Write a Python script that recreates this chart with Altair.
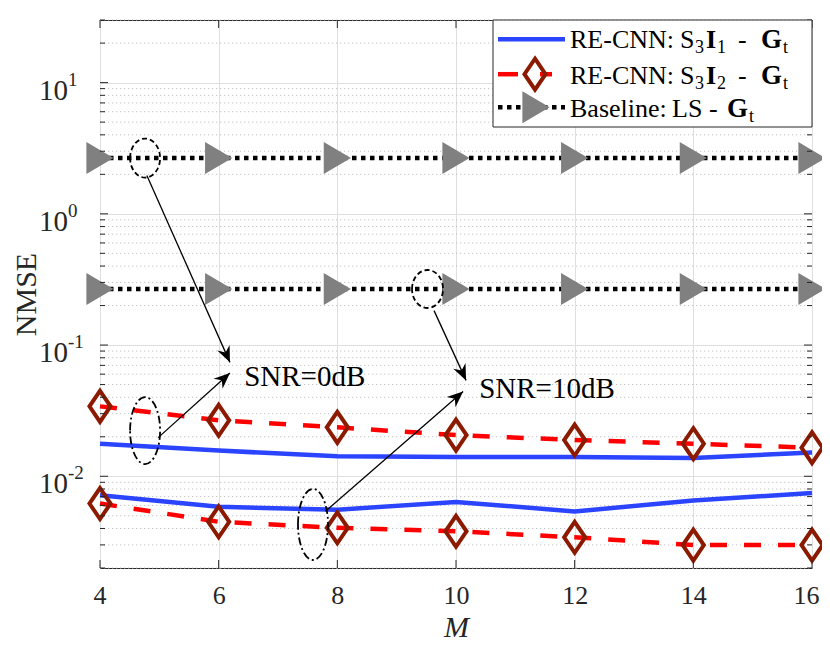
import math
import altair as alt
import pandas as pd

# ---------------- data ----------------
M = [4, 6, 8, 10, 12, 14, 16]
cnn_s3i1_snr0 = [0.0177, 0.0157, 0.0142, 0.0140, 0.0140, 0.0138, 0.0152]
cnn_s3i1_snr10 = [0.00717, 0.00585, 0.00557, 0.00638, 0.00540, 0.00653, 0.00747]
cnn_s3i2_snr0 = [0.0341, 0.0267, 0.0236, 0.0206, 0.0189, 0.0177, 0.0165]
cnn_s3i2_snr10 = [0.00620, 0.00450, 0.00405, 0.00381, 0.00343, 0.00299, 0.00299]
ls_snr0 = [2.66, 2.66, 2.66, 2.66, 2.66, 2.66, 2.66]
ls_snr10 = [0.2675, 0.2675, 0.2675, 0.2675, 0.2675, 0.2675, 0.2675]

y_major = [0.01, 0.1, 1, 10]
y_base_labels = ["10", "10", "10", "10"]
y_exp_labels = ["-2", "-1", "0", "1"]
y_minor = [k * 10 ** e for e in range(-3, 2) for k in range(2, 10) if 0.002 <= k * 10 ** e <= 30.0001]

# annotations (data coordinates)
ell_m = [4.76, 4.76, 9.52, 7.59]
ell_v = [2.66, 0.0223, 0.2675, 0.00429]
ell_w = [30, 30, 31, 30]
ell_h = [39, 67, 38, 71]
ell_dash = [[5, 3], [8, 3, 2, 3], [5, 3], [8, 3, 2, 3]]

arr_m1 = [4.79, 4.98, 9.63, 7.80]
arr_v1 = [1.96, 0.0197, 0.183, 0.00541]
arr_m2 = [6.19, 6.19, 10.17, 10.12]
arr_v2 = [0.0738, 0.0613, 0.0538, 0.0442]

txt_m = [6.43, 10.39]
txt_v = [0.0485, 0.0395]
txt_s = ["SNR=0dB", "SNR=10dB"]

# ---------------- geometry / style ----------------
W, H = 712, 548
XMIN, XMAX = 4, 16
YMIN, YMAX = 0.002, 30
FONT = "Liberation Serif"
AX = "#262626"
BLUE = "#2a44ff"
RED = "#ff0000"
DRED = "#8b1a00"
GRAY = "#808080"


def px(m):
    return (m - XMIN) / (XMAX - XMIN) * W


def py(v):
    return H * (math.log10(YMAX) - math.log10(v)) / math.log10(YMAX / YMIN)


xs = alt.Scale(domain=[XMIN, XMAX], nice=False, zero=False)
ys = alt.Scale(type="log", domain=[YMIN, YMAX], nice=False)

x_axis = alt.Axis(values=M, title="M", titleFont=FONT, titleFontStyle="italic",
                  titleFontSize=30, titleFontWeight="normal", titleY=68,
                  titleBaseline="alphabetic", titleColor=AX,
                  labelFont=FONT, labelFontSize=26, labelPadding=35,
                  labelBaseline="alphabetic", labelColor=AX,
                  labelFlush=True, labelFlushOffset=7, labelOverlap=False,
                  ticks=False, tickSize=0,
                  domain=False, grid=True, gridColor="#dfdfdf", gridWidth=1)
y_axis = alt.Axis(values=y_major, labels=False, title="NMSE", titleFont=FONT,
                  titleFontSize=30, titleFontWeight="normal", titleColor=AX,
                  titleX=-65, titleY=H / 2, titleAngle=270,
                  titleAlign="center", titleBaseline="alphabetic",
                  ticks=False, tickSize=0, domain=False, grid=True,
                  gridColor="#dfdfdf", gridWidth=1)

X = alt.X("M:Q", scale=xs, axis=x_axis)
Y = alt.Y("NMSE:Q", scale=ys, axis=y_axis)

DIAMOND = "M0,-1L0.68,0L0,1L-0.68,0Z"
TRI = "M-0.85,-1L0.85,0L-0.85,1Z"
ARROW = "M0,0L0.42,1L0,0.68L-0.42,1Z"

rows = []
for snr, a, b, c in [("0", cnn_s3i1_snr0, cnn_s3i2_snr0, ls_snr0),
                     ("10", cnn_s3i1_snr10, cnn_s3i2_snr10, ls_snr10)]:
    for i, m in enumerate(M):
        rows.append({"M": m, "NMSE": a[i], "series": "S3I1", "snr": snr})
        rows.append({"M": m, "NMSE": b[i], "series": "S3I2", "snr": snr})
        rows.append({"M": m, "NMSE": c[i], "series": "LS", "snr": snr})
df = pd.DataFrame(rows)

one = pd.DataFrame({"k": [0]})
base = alt.Chart(df)

# minor grid
minor = alt.Chart(pd.DataFrame({"NMSE": y_minor})).mark_rule(
    color="#c4c4c4", strokeWidth=1, strokeDash=[1.3, 2.7]).encode(
    y=Y, x=alt.value(0), x2=alt.value(W))

blue = base.transform_filter("datum.series == 'S3I1'").mark_line(
    color=BLUE, strokeWidth=4.5).encode(x=X, y=Y, detail="snr:N")

red = base.transform_filter("datum.series == 'S3I2'").mark_line(
    color=RED, strokeWidth=4.5, strokeDash=[17, 17], strokeCap="butt").encode(
    x=X, y=Y, detail="snr:N")

diam = base.transform_filter("datum.series == 'S3I2'").mark_point(
    shape=DIAMOND, filled=False, color=DRED, strokeWidth=4, size=961, opacity=1).encode(
    x=X, y=Y)

black = base.transform_filter("datum.series == 'LS'").mark_line(
    color="black", strokeWidth=4.5, strokeDash=[4.5, 4.5], strokeCap="butt").encode(
    x=X, y=Y, detail="snr:N")

tri = base.transform_filter("datum.series == 'LS'").mark_point(
    shape=TRI, filled=True, color=GRAY, strokeWidth=0, size=1024, opacity=1).encode(
    x=X, y=Y)

# ellipses
ell_layers = []
for i in range(len(ell_m)):
    a = ell_w[i] / ell_h[i]
    path = f"M{-a:.3f},0A{a:.3f},1 0 1,1 {a:.3f},0A{a:.3f},1 0 1,1 {-a:.3f},0Z"
    e = alt.Chart(pd.DataFrame({"M": [ell_m[i]], "NMSE": [ell_v[i]]})).mark_point(
        shape=path, filled=False, color="black", strokeWidth=1.8,
        strokeDash=ell_dash[i], size=ell_h[i] ** 2, opacity=1).encode(x=X, y=Y)
    ell_layers.append(e)

# arrows
angles = []
for i in range(len(arr_m1)):
    dx = px(arr_m2[i]) - px(arr_m1[i])
    dy = py(arr_v2[i]) - py(arr_v1[i])
    angles.append(math.degrees(math.atan2(dx, -dy)) % 360)
arr_line = alt.Chart(pd.DataFrame({"M": arr_m1, "NMSE": arr_v1, "M2": arr_m2, "NMSE2": arr_v2})
                     ).mark_rule(color="black", strokeWidth=1.3).encode(
    x=X, y=Y, x2="M2:Q", y2="NMSE2:Q")
arr_head = alt.Chart(pd.DataFrame({"M": arr_m2, "NMSE": arr_v2, "ang": angles})).mark_point(
    shape=ARROW, filled=True, color="black", size=1024, opacity=1, strokeWidth=0).encode(
    x=X, y=Y, angle=alt.Angle("ang:Q", scale=None))

txt = alt.Chart(pd.DataFrame({"M": txt_m, "NMSE": txt_v, "s": txt_s})).mark_text(
    font=FONT, fontSize=29, align="left", baseline="alphabetic", color="black").encode(
    x=X, y=Y, text="s:N")

# y tick labels "10" with exponents
ylab_df = pd.DataFrame({"NMSE": y_major, "b": y_base_labels, "e": y_exp_labels})
ylab_base = alt.Chart(ylab_df).mark_text(
    font=FONT, fontSize=29, align="right", baseline="alphabetic", dy=17, color=AX).encode(
    y=Y, x=alt.value(-32), text="b:N")
ylab_exp = alt.Chart(ylab_df).mark_text(
    font=FONT, fontSize=19, align="left", baseline="alphabetic", dy=3, color=AX).encode(
    y=Y, x=alt.value(-32), text="e:N")


# inward ticks
def yticks(vals, length):
    d = pd.DataFrame({"NMSE": vals})
    l = alt.Chart(d).mark_rule(color=AX, strokeWidth=1).encode(
        y=Y, x=alt.value(0), x2=alt.value(length))
    r = alt.Chart(d).mark_rule(color=AX, strokeWidth=1).encode(
        y=Y, x=alt.value(W), x2=alt.value(W - length))
    return [l, r]


xt = pd.DataFrame({"M": M})
xtick_b = alt.Chart(xt).mark_rule(color=AX, strokeWidth=1).encode(
    x=X, y=alt.value(H), y2=alt.value(H - 8))
xtick_t = alt.Chart(xt).mark_rule(color=AX, strokeWidth=1).encode(
    x=X, y=alt.value(0), y2=alt.value(8))

tick_layers = yticks(y_major, 8) + yticks(y_minor, 5) + [xtick_b, xtick_t]

# legend (layout in pixels)
LX0, LX1, LY0, LY1 = 393, W, 0, 107
leg = [alt.Chart(one).mark_rect(fill="white", stroke=AX, strokeWidth=1).encode(
    x=alt.value(LX0), x2=alt.value(LX1), y=alt.value(LY0), y2=alt.value(LY1))]


def lrule(x1, x2, y, color, dash=None):
    kw = dict(color=color, strokeWidth=4.5, strokeCap="butt")
    if dash:
        kw["strokeDash"] = dash
    return alt.Chart(one).mark_rule(**kw).encode(
        x=alt.value(x1), x2=alt.value(x2), y=alt.value(y))


def ltext(x, y, s, size=26, weight="normal"):
    return alt.Chart(one).mark_text(font=FONT, fontSize=size, fontWeight=weight,
                                    align="left", baseline="alphabetic",
                                    color="black", text=s).encode(
        x=alt.value(x), y=alt.value(y))


leg.append(lrule(398, 465, 19.3, BLUE))
leg.append(lrule(398, 418, 54.2, RED))
leg.append(lrule(440, 452, 54.2, RED))
leg.append(alt.Chart(one).mark_point(shape=DIAMOND, filled=False, color=DRED,
                                     strokeWidth=4, size=961, opacity=1).encode(
    x=alt.value(435), y=alt.value(54.2)))
leg.append(lrule(398, 465, 87.3, "black", [4.5, 4.5]))
leg.append(alt.Chart(one).mark_point(shape=TRI, filled=True, color=GRAY, strokeWidth=0,
                                     size=1024, opacity=1).encode(
    x=alt.value(436), y=alt.value(87.3)))

for yb, sub in [(28, "1"), (63.7, "2")]:
    leg += [ltext(470, yb, "RE-CNN:"), ltext(580, yb, "S"),
            ltext(595, yb + 5, "3", 18), ltext(606, yb, "I", 26, "bold"),
            ltext(617, yb + 5, sub, 18), ltext(638, yb, "-"),
            ltext(661, yb, "G", 27, "bold"), ltext(683, yb + 5, "t", 18)]
yb = 97
leg += [ltext(470, yb, "Baseline:"), ltext(572, yb, "LS"), ltext(609, yb, "-"),
        ltext(627, yb, "G", 27, "bold"), ltext(649, yb + 5, "t", 18)]

chart = alt.layer(minor, blue, red, diam, black, tri, *ell_layers, arr_line, arr_head, txt,
                  ylab_base, ylab_exp, *tick_layers, *leg).properties(
    width=W, height=H,
    padding={"left": 92, "top": 12, "right": 10, "bottom": 75},
    autosize=alt.AutoSizeParams(type="none"),
).configure_view(stroke=AX, strokeWidth=1).configure_axis(
    labelFont=FONT, titleFont=FONT, labelColor=AX, titleColor=AX)

chart.save("out.html", embed_options={"renderer": "svg", "actions": False})
